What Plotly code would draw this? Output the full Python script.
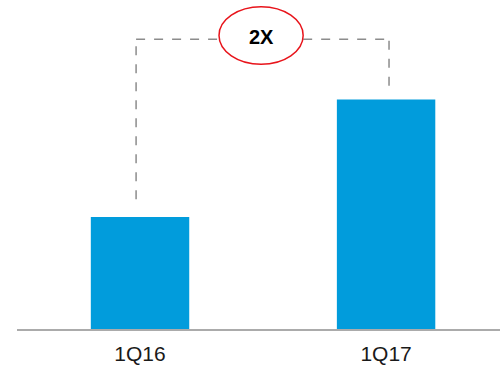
import plotly.graph_objects as go

categories = ["1Q16", "1Q17"]
values = [1.0, 2.05]
multiple_label = "2X"

BAR_COLOR = "#019CDC"
DASH_COLOR = "#8C8C8C"

fig = go.Figure()
fig.add_trace(go.Bar(
    x=[0, 1], y=values, width=0.4,
    marker=dict(color=BAR_COLOR, line=dict(width=0)),
    hoverinfo="skip",
))

top_y = 2.59
# dashed connector
line_style = dict(color=DASH_COLOR, width=1.5, dash="dash")
fig.add_shape(type="line", x0=-0.016, x1=-0.016, y0=values[0] * 1.16, y1=top_y, xref="x", yref="y", line=line_style)
fig.add_shape(type="line", x0=-0.016, x1=0.321, y0=top_y, y1=top_y, xref="x", yref="y", line=line_style)
fig.add_shape(type="line", x0=0.663, x1=1.012, y0=top_y, y1=top_y, xref="x", yref="y", line=line_style)
fig.add_shape(type="line", x0=1.012, x1=1.012, y0=values[1] * 1.06, y1=2.625, xref="x", yref="y", line=line_style)
# ellipse
fig.add_shape(type="circle", x0=0.321, x1=0.663, y0=2.366, y1=2.88, xref="x", yref="y",
              line=dict(color="#E8141B", width=1.5), fillcolor="white")
fig.add_annotation(x=0.495, y=2.61, text="<b>" + multiple_label + "</b>", showarrow=False,
                   font=dict(family="Liberation Sans, Arial", size=20, color="black"))

fig.update_layout(
    width=500, height=367,
    margin=dict(l=17, r=0, t=0, b=38),
    paper_bgcolor="white", plot_bgcolor="white",
    showlegend=False,
    xaxis=dict(range=[-0.5, 1.463], tickvals=[0, 1], ticktext=categories,
               showgrid=False, zeroline=False, showline=True, linecolor="#ABABAB", linewidth=2,
               ticks="", ticklabelstandoff=5,
               tickfont=dict(family="Liberation Sans, Arial", size=21, color="#1a1a1a")),
    yaxis=dict(range=[0, 2.94], visible=False, showgrid=False, zeroline=False),
)

fig.write_html("out.html")
